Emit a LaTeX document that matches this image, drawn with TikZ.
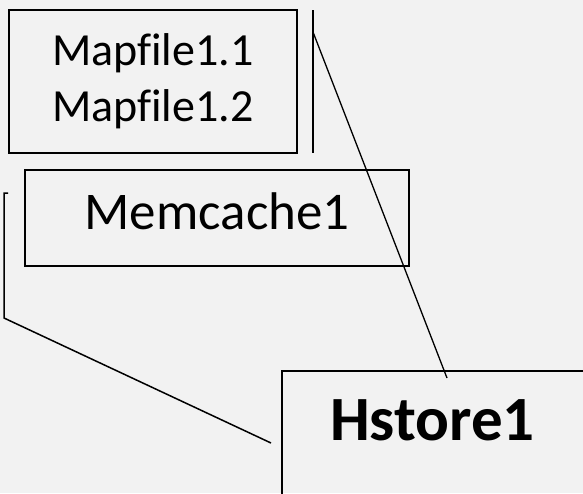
\documentclass[tikz,border=0pt]{standalone}
\usepackage{fontspec}
\setmainfont{Carlito}[Ligatures=NoCommon]
\definecolor{bggray}{HTML}{F2F2F2}
\begin{document}
\begin{tikzpicture}[x=1pt,y=-1pt,
  box/.style={draw=black, line width=2pt, inner sep=0pt},
  wire/.style={draw=black, line width=1.5pt}]
  % canvas
  \fill[bggray] (0,0) rectangle (583,493);
  \useasboundingbox (0,0) rectangle (583,493);
  \clip (0,0) rectangle (583,493);

  % boxes
  \node[box, minimum width=288pt, minimum height=143pt, align=center,
        font=\fontsize{46}{56}\selectfont] (map) at (153,81.5)
        {Mapfile1.1\\Mapfile1.2};
  \node[box, minimum width=384pt, minimum height=96pt, text depth=14pt,
        font=\fontsize{53}{60}\selectfont] (mem) at (217,218) {Memcache1};
  \node[box, anchor=north west, minimum width=310pt, minimum height=150pt]
        (hs) at (281,370) {};
  \node[anchor=base, inner sep=0pt, font=\fontsize{63}{70}\selectfont\bfseries]
        (hslabel) at (432.5,440) {Hstore1};

  % connector points
  \coordinate (vtop) at (313,10);
  \coordinate (vbot) at (313,153);
  \coordinate (vjoin) at (313,32);
  \coordinate (hstop) at (447,378);
  \coordinate (ltick) at (8,193);
  \coordinate (ltop) at (4,193);
  \coordinate (lbot) at (4,318);
  \coordinate (hsleft) at (271,443);

  % connectors
  \draw[wire] (vtop) -- (vbot);
  \draw[wire, line width=1.3pt] (vjoin) -- (hstop);
  \draw[wire, line join=miter] (ltick) -- (ltop) -- (lbot) -- (hsleft);
\end{tikzpicture}
\end{document}
